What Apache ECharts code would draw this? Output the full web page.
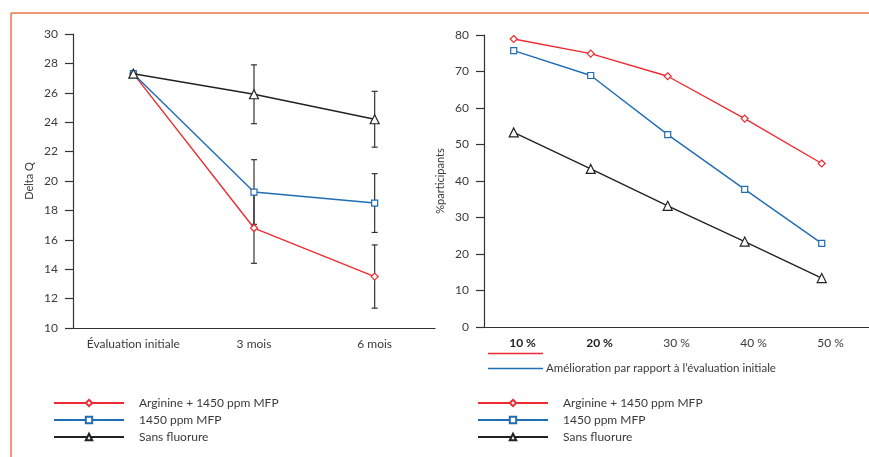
<!DOCTYPE html>
<html>
<head>
<meta charset="utf-8">
<script src="https://cdn.jsdelivr.net/npm/echarts@6/dist/echarts.min.js"></script>
<style>
html, body { margin: 0; padding: 0; background: #fff; }
#chart { width: 869px; height: 457px; }
</style>
</head>
<body>
<div id="chart"></div>
<script>
const seriesNames = ['Arginine + 1450 ppm MFP', '1450 ppm MFP', 'Sans fluorure']

// left panel: Delta Q over time, mean and error bar half-width
const periods = ['Évaluation initiale', '3 mois', '6 mois']
const deltaArginine = [27.3, 16.8, 13.5]
const deltaMfp = [27.3, 19.25, 18.5]
const deltaSans = [27.3, 25.9, 24.2]
const errArginine = [0, 2.4, 2.15]
const errMfp = [0, 2.2, 2.0]
const errSans = [0, 2.0, 1.9]
const deltaTicks = [10, 30, 2] // min, max, step

// right panel: % participants per improvement level
const improvementLabels = ['10 %', '20 %', '30 %', '40 %', '50 %']
const improvementValues = [10, 20, 30, 40, 50]
const pctArginine = [78.9, 74.9, 68.7, 57.1, 44.8]
const pctMfp = [75.7, 68.9, 52.7, 37.7, 22.9]
const pctSans = [53.3, 43.3, 33.2, 23.4, 13.4]
const pctTicks = [0, 80, 10]

const RED = '#ee2b31'
const BLUE = '#1f6db4'
const BLACK = '#222'
const AXIS = '#333'
const TEXT = '#3a3a3a'
const FONT = 'Lato'

const styles = [
  { color: RED, symbol: 'diamond', size: 7 },
  { color: BLUE, symbol: 'rect', size: 6 },
  { color: BLACK, symbol: 'triangle', size: 9 },
]

function errorData(means, errs) {
  const out = []
  means.forEach((m, i) => {
    if (errs[i] > 0) out.push([i, m - errs[i], m + errs[i]])
  })
  return out
}

function renderErrorBar(params, api) {
  const x = api.value(0)
  const top = api.coord([x, api.value(2)])
  const bot = api.coord([x, api.value(1)])
  const w = 3
  const st = { stroke: AXIS, lineWidth: 1.2 }
  return {
    type: 'group',
    children: [
      { type: 'line', shape: { x1: top[0], y1: top[1], x2: bot[0], y2: bot[1] }, style: st },
      { type: 'line', shape: { x1: top[0] - w, y1: top[1], x2: top[0] + w, y2: top[1] }, style: st },
      { type: 'line', shape: { x1: bot[0] - w, y1: bot[1], x2: bot[0] + w, y2: bot[1] }, style: st },
    ],
  }
}

function lineSeries(name, idx, data, xi, yi) {
  const s = styles[idx]
  return {
    name: name,
    type: 'line',
    xAxisIndex: xi,
    yAxisIndex: yi,
    data: data,
    symbol: s.symbol,
    symbolSize: s.size,
    showAllSymbol: true,
    z: 3 + idx,
    lineStyle: { color: s.color, width: 1.4 },
    itemStyle: { color: '#fff', borderColor: s.color, borderWidth: 1.2 },
    emphasis: { disabled: true },
    animation: false,
  }
}

const yAxisBase = {
  type: 'value',
  axisLine: { show: true, lineStyle: { color: AXIS, width: 1.2 } },
  axisTick: { show: true, length: 8, lineStyle: { color: AXIS, width: 1.2 } },
  axisLabel: { color: TEXT, fontSize: 12, fontFamily: FONT, margin: 15 },
  splitLine: { show: false },
  nameLocation: 'middle',
  nameGap: 38,
  nameTextStyle: { color: TEXT, fontSize: 11, fontFamily: FONT },
}

const xLabelStyle = { color: TEXT, fontSize: 12, fontFamily: FONT, margin: 10, interval: 0, hideOverlap: false }

const legendBase = {
  orient: 'vertical',
  padding: 0,
  itemWidth: 70,
  itemHeight: 8,
  itemGap: 3,
  textStyle: { color: TEXT, fontSize: 12, fontFamily: FONT, padding: [0, 0, 0, 10], lineHeight: 14 },
  data: seriesNames,
  selectedMode: false,
}

const chart = echarts.init(document.getElementById('chart'))
chart.setOption({
  animation: false,
  textStyle: { fontFamily: FONT },
  grid: [
    { left: 73, top: 34, right: 434, bottom: 129 },
    { left: 484, top: 35, right: 0, bottom: 130 },
  ],
  xAxis: [
    {
      type: 'category',
      gridIndex: 0,
      data: periods,
      boundaryGap: true,
      axisLine: { lineStyle: { color: AXIS, width: 1.2 } },
      axisTick: { length: 6, interval: 0, lineStyle: { color: AXIS, width: 1.2 } },
      axisLabel: xLabelStyle,
    },
    {
      type: 'category',
      gridIndex: 1,
      data: improvementLabels,
      boundaryGap: true,
      axisLine: { lineStyle: { color: AXIS, width: 1.2 } },
      axisTick: { length: 6, interval: 0, lineStyle: { color: AXIS, width: 1.2 } },
      axisLabel: Object.assign({}, xLabelStyle, {
        formatter: (v, i) => (i < 2 ? '{b|' + v + '}' : v),
        rich: { b: { fontWeight: 'bold', color: '#222', fontSize: 12, fontFamily: FONT } },
      }),
    },
    {
      type: 'value',
      gridIndex: 1,
      min: 6.14,
      max: 56.14,
      show: false,
    },
  ],
  yAxis: [
    Object.assign({}, yAxisBase, {
      gridIndex: 0, name: 'Delta Q',
      min: deltaTicks[0], max: deltaTicks[1], interval: deltaTicks[2],
    }),
    Object.assign({}, yAxisBase, {
      gridIndex: 1, name: '%participants',
      min: pctTicks[0], max: pctTicks[1], interval: pctTicks[2],
    }),
  ],
  legend: [
    Object.assign({}, legendBase, { left: 53, top: 396 }),
    Object.assign({}, legendBase, { left: 477, top: 396 }),
  ],
  graphic: [
    { type: 'line', shape: { x1: 11, y1: 13, x2: 869, y2: 13 }, style: { stroke: '#f37148', lineWidth: 1.5 } },
    { type: 'line', shape: { x1: 11, y1: 13, x2: 11, y2: 457 }, style: { stroke: '#f37148', lineWidth: 1.5 } },
    { type: 'line', shape: { x1: 488, y1: 353.5, x2: 543, y2: 353.5 }, style: { stroke: RED, lineWidth: 1.3 } },
    { type: 'line', shape: { x1: 488, y1: 368.5, x2: 543, y2: 368.5 }, style: { stroke: BLUE, lineWidth: 1.3 } },
    {
      type: 'text', x: 546, y: 368,
      style: {
        text: 'Amélioration par rapport à l’évaluation initiale',
        fill: TEXT, fontSize: 11.5, fontFamily: FONT, verticalAlign: 'middle',
      },
    },
  ],
  series: [
    { name: 'err-sans', type: 'custom', xAxisIndex: 0, yAxisIndex: 0, renderItem: renderErrorBar, data: errorData(deltaSans, errSans), z: 1 },
    { name: 'err-mfp', type: 'custom', xAxisIndex: 0, yAxisIndex: 0, renderItem: renderErrorBar, data: errorData(deltaMfp, errMfp), z: 1 },
    { name: 'err-arg', type: 'custom', xAxisIndex: 0, yAxisIndex: 0, renderItem: renderErrorBar, data: errorData(deltaArginine, errArginine), z: 1 },
    lineSeries(seriesNames[0], 0, deltaArginine, 0, 0),
    lineSeries(seriesNames[1], 1, deltaMfp, 0, 0),
    lineSeries(seriesNames[2], 2, deltaSans, 0, 0),
    lineSeries(seriesNames[0], 0, improvementValues.map((v, i) => [v, pctArginine[i]]), 2, 1),
    lineSeries(seriesNames[1], 1, improvementValues.map((v, i) => [v, pctMfp[i]]), 2, 1),
    lineSeries(seriesNames[2], 2, improvementValues.map((v, i) => [v, pctSans[i]]), 2, 1),
  ],
})
</script>
</body>
</html>
